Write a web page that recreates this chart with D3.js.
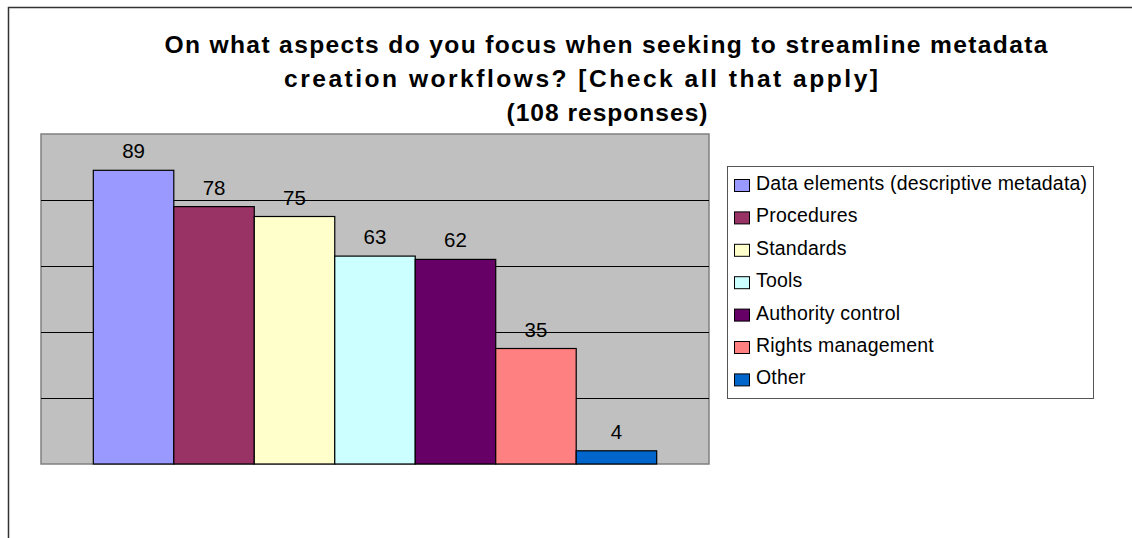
<!DOCTYPE html>
<html>
<head>
<meta charset="utf-8">
<script src="https://cdn.jsdelivr.net/npm/d3@7"></script>
<style>
  body { margin: 0; background: #fff; }
  svg { display: block; font-family: "Liberation Sans", Arial, sans-serif; }
</style>
</head>
<body>
<div class="chart"></div>
<script>
// survey answers, one bar each
const categories = ["Data elements (descriptive metadata)", "Procedures", "Standards", "Tools",
                    "Authority control", "Rights management", "Other"];
const counts = [89, 78, 75, 63, 62, 35, 4];
const barColors = ["#9999FF", "#993366", "#FFFFCC", "#CCFFFF", "#660066", "#FF8080", "#0066CC"];
const gridTicks = [20, 40, 60, 80];
const titleLines = ["On what aspects do you focus when seeking to streamline metadata",
                    "creation workflows? [Check all that apply]",
                    "(108 responses)"];

const width = 1132, height = 538;
const plot = {left: 41, right: 709, top: 134, bottom: 464};

const svg = d3.select(".chart").append("svg")
  .attr("width", width)
  .attr("height", height);

// outer chart frame (runs off the right and bottom)
svg.append("path")
  .attr("d", `M8.5,${height + 2}V7.5H${width + 2}`)
  .attr("fill", "none")
  .attr("stroke", "#333")
  .attr("stroke-width", 1.5);

// title, line by line (centres/widths)
// the original glyphs are a bit wider than Liberation Sans, so stretch a little
const titleX = [606, 581, 607];
const titleW = [883, 594, 201];
const stretch = 1.07;
svg.append("g").selectAll("text")
  .data(titleLines)
  .join("text")
  .attr("transform", (d, i) => `translate(${titleX[i]},${53 + i * 34}) scale(${stretch},1)`)
  .attr("text-anchor", "middle")
  .attr("font-size", 23)
  .attr("font-weight", "bold")
  .attr("textLength", (d, i) => titleW[i] / stretch)
  .attr("lengthAdjust", "spacing")
  .text(d => d);

const x = d3.scaleBand()
  .domain(categories)
  .range([plot.left, plot.right])
  .paddingInner(0)
  .paddingOuter(0.65);

const y = d3.scaleLinear()
  .domain([0, 100])
  .range([plot.bottom, plot.top]);

// plot area
svg.append("rect")
  .attr("x", plot.left)
  .attr("y", plot.top)
  .attr("width", plot.right - plot.left)
  .attr("height", plot.bottom - plot.top)
  .attr("fill", "#C0C0C0")
  .attr("stroke", "#808080")
  .attr("stroke-width", 1.5);

svg.append("g").selectAll("line")
  .data(gridTicks)
  .join("line")
  .attr("x1", plot.left)
  .attr("x2", plot.right)
  .attr("y1", d => Math.round(y(d)) + 0.5)
  .attr("y2", d => Math.round(y(d)) + 0.5)
  .attr("stroke", "#000");

// bars
svg.append("g").selectAll("rect")
  .data(categories)
  .join("rect")
  .attr("x", d => x(d))
  .attr("y", (d, i) => y(counts[i]))
  .attr("width", x.bandwidth())
  .attr("height", (d, i) => y(0) - y(counts[i]))
  .attr("fill", (d, i) => barColors[i])
  .attr("stroke", "#000")
  .attr("stroke-width", 1.2);

// value labels
svg.append("g").selectAll("text")
  .data(categories)
  .join("text")
  .attr("x", d => x(d) + x.bandwidth() / 2)
  .attr("y", (d, i) => y(counts[i]) - 12)
  .attr("text-anchor", "middle")
  .attr("font-size", 20.5)
  .text((d, i) => counts[i]);

// legend
const legend = svg.append("g").attr("transform", "translate(727,166)");
legend.append("rect")
  .attr("x", 0.5).attr("y", 0.5)
  .attr("width", 366).attr("height", 232)
  .attr("fill", "#fff")
  .attr("stroke", "#555");

const item = legend.selectAll(".item")
  .data(categories)
  .join("g")
  .attr("class", "item")
  .attr("transform", (d, i) => `translate(0,${17 + i * 32.4})`);

item.append("rect")
  .attr("x", 7.5).attr("y", -3.5)
  .attr("width", 15).attr("height", 12)
  .attr("fill", (d, i) => barColors[i])
  .attr("stroke", "#000");

item.append("text")
  .attr("x", 29)
  .attr("y", 7)
  .attr("font-size", 19.5)
  .attr("letter-spacing", 0.2)
  .text(d => d);
</script>
</body>
</html>
